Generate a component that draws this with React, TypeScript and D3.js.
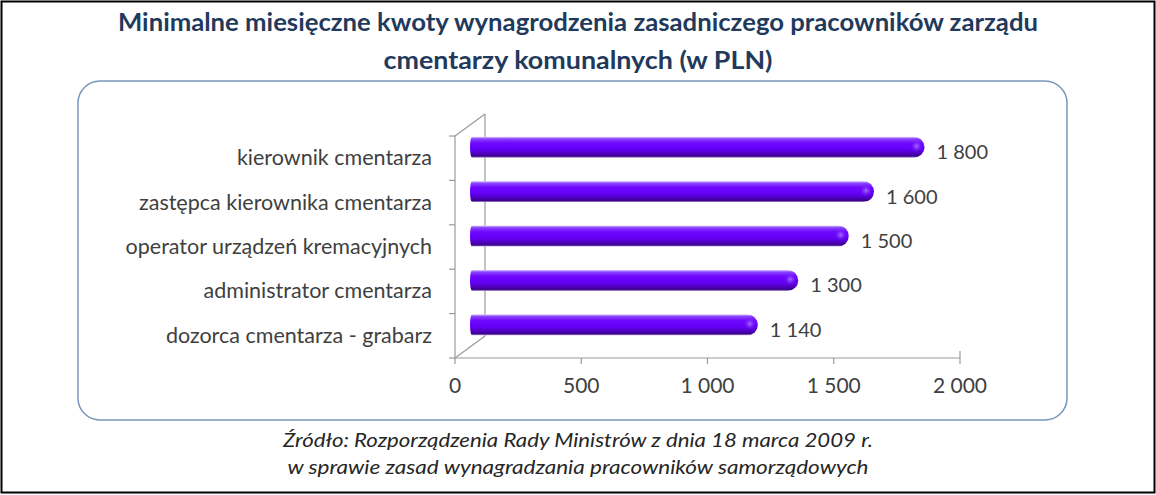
import React from 'react';
import * as d3 from 'd3';

const categories = [
  'kierownik cmentarza',
  'zastępca kierownika cmentarza',
  'operator urządzeń kremacyjnych',
  'administrator cmentarza',
  'dozorca cmentarza - grabarz',
];
const values = [1800, 1600, 1500, 1300, 1140];
const valueLabels = ['1 800', '1 600', '1 500', '1 300', '1 140'];
const ticks = [0, 500, 1000, 1500, 2000];
const tickLabels = ['0', '500', '1 000', '1 500', '2 000'];

const titleLines = [
  'Minimalne miesięczne kwoty wynagrodzenia zasadniczego pracowników zarządu',
  'cmentarzy komunalnych (w PLN)',
];
const sourceLines = [
  'Źródło: Rozporządzenia Rady Ministrów z dnia 18 marca 2009 r.',
  'w sprawie zasad wynagradzania pracowników samorządowych',
];

const W = 1156;
const H = 495;
const FONT = 'Lato, "Open Sans", sans-serif';

export default function App() {
  const x = d3.scaleLinear().domain([0, 2000]).range([455, 960]);
  const y = d3.scaleBand<string>().domain(categories).range([136, 358]);
  const bw = y.bandwidth();
  // 3d depth offset of the walls
  const dx = 30;
  const dy = -22;
  const barH = 21;
  const axisY = y.range()[1];
  const topY = y.range()[0];

  const barPath = (v: number) => {
    const x0 = x(0) + dx / 2;
    const x1 = x(v) + dx / 2;
    const r = barH / 2;
    return `M${x0 + 2},${-r} L${x1 - r},${-r} A${r},${r} 0 0 1 ${x1 - r},${r} L${x0 + 2},${r} A2,${r} 0 0 1 ${x0 + 2},${-r} Z`;
  };

  return (
    <div style={{ position: 'absolute', left: 0, top: 0 }}>
      <svg width={W} height={H} viewBox={`0 0 ${W} ${H}`} style={{ display: 'block' }}>
        <defs>
          <linearGradient id="cyl" x1="0" y1="0" x2="0" y2="1">
            <stop offset="0" stopColor="#e2d4fb" />
            <stop offset="0.1" stopColor="#8a45ff" />
            <stop offset="0.3" stopColor="#7008ff" />
            <stop offset="0.6" stopColor="#6400f5" />
            <stop offset="0.82" stopColor="#4d00b8" />
            <stop offset="0.93" stopColor="#3a0088" />
            <stop offset="1" stopColor="#b6a2dc" />
          </linearGradient>
          <radialGradient id="cap" cx="0.5" cy="0.5" r="0.5">
            <stop offset="0" stopColor="#b48cff" stopOpacity="0.8" />
            <stop offset="1" stopColor="#7a20ff" stopOpacity="0" />
          </radialGradient>
        </defs>
        <rect x={0} y={0} width={W} height={H} fill="#ffffff" />
        <rect x={1.5} y={1.5} width={W - 3} height={H - 4} fill="none" stroke="#000" strokeWidth={2} />

        <text x={578} y={31} textAnchor="middle" fontFamily={FONT} fontWeight="bold" fontSize={25.5}
          fill="#1f3a5c" textLength={920} lengthAdjust="spacingAndGlyphs">
          {titleLines[0]}
        </text>
        <text x={578} y={69} textAnchor="middle" fontFamily={FONT} fontWeight="bold" fontSize={25.5}
          fill="#1f3a5c" textLength={389} lengthAdjust="spacingAndGlyphs">
          {titleLines[1]}
        </text>

        <rect x={78} y={81} width={989} height={339} rx={22} ry={22} fill="#fff" stroke="#7896bb" strokeWidth={1.5} />

        {/* walls */}
        <g stroke="#9a9a9a" strokeWidth={1.2} fill="none">
          <line x1={x(0)} y1={topY} x2={x(0)} y2={axisY} />
          <line x1={x(0) + dx} y1={topY + dy} x2={x(0) + dx} y2={axisY + dy} />
          <line x1={x(0)} y1={topY} x2={x(0) + dx} y2={topY + dy} />
          <line x1={x(0)} y1={axisY} x2={x(0) + dx} y2={axisY + dy} />
          <line x1={x(0)} y1={axisY} x2={x(2000)} y2={axisY} />
          <line x1={x(2000)} y1={axisY} x2={x(2000)} y2={axisY - 7} />
          {categories.map((c) => (
            <line key={c} x1={x(0) - 6} y1={y(c)!} x2={x(0)} y2={y(c)!} />
          ))}
          <line x1={x(0) - 6} y1={axisY} x2={x(0)} y2={axisY} />
          {ticks.map((t) => (
            <line key={t} x1={x(t)} y1={axisY} x2={x(t)} y2={axisY + 6} />
          ))}
        </g>

        {ticks.map((t, i) => (
          <text key={t} x={x(t)} y={axisY + 35} textAnchor="middle" fontFamily={FONT} fontSize={21} fill="#404040">
            {tickLabels[i]}
          </text>
        ))}

        {categories.map((c) => (
          <text
            key={c}
            x={432}
            y={y(c)! + bw / 2 + 7}
            textAnchor="end"
            fontFamily={FONT}
            fontSize={21.5}
            fill="#404040"
          >
            {c}
          </text>
        ))}

        {categories.map((c, i) => {
          const cy = y(c)! + bw / 2 + dy / 2;
          const xe = x(values[i]) + dx / 2;
          return (
            <g key={c} transform={`translate(0,${cy})`}>
              <path d={barPath(values[i])} fill="url(#cyl)" />
              <ellipse cx={xe - 8} cy={-1} rx={6} ry={6} fill="url(#cap)" />
              <text x={xe + 12} y={12} fontFamily={FONT} fontSize={20} fill="#404040">
                {valueLabels[i]}
              </text>
            </g>
          );
        })}

        <text x={578} y={447} textAnchor="middle" fontFamily={FONT} fontStyle="italic" fontSize={20}
          fill="#262626" textLength={590} lengthAdjust="spacingAndGlyphs">
          {sourceLines[0]}
        </text>
        <text x={578} y={474} textAnchor="middle" fontFamily={FONT} fontStyle="italic" fontSize={20}
          fill="#262626" textLength={581} lengthAdjust="spacingAndGlyphs">
          {sourceLines[1]}
        </text>
      </svg>
    </div>
  );
}
